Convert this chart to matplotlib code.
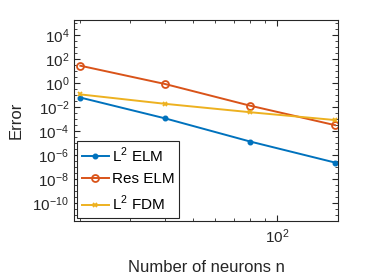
import matplotlib
matplotlib.use("Agg")
from matplotlib import pyplot as plt
from matplotlib.ticker import LogLocator, NullFormatter, FixedLocator

plt.rcParams['font.family'] = ['Liberation Sans', 'DejaVu Sans']
plt.rcParams['mathtext.fontset'] = 'custom'
plt.rcParams['mathtext.rm'] = 'Liberation Sans'

neurons = [20, 40, 80, 160]
l2_elm = [6e-2, 1.1e-3, 1.3e-5, 2.3e-7]
res_elm = [27, 0.8, 1.26e-2, 3e-4]
l2_fdm = [1.1e-1, 1.8e-2, 3.6e-3, 8e-4]
labels = [r'L$^2$ ELM', 'Res ELM', r'L$^2$ FDM']
colors = ['#0072BD', '#D95319', '#EDB120']
yticks = [1e4, 1e2, 1e0, 1e-2, 1e-4, 1e-6, 1e-8, 1e-10]

fig = plt.figure(figsize=(3.74, 2.8), dpi=100)
ax = fig.add_axes([0.198, 0.211, 0.706, 0.718])

ax.loglog(neurons, l2_elm, '-', color=colors[0], marker='o', markersize=3.3, lw=1.4, label=labels[0])
ax.loglog(neurons, res_elm, '-', color=colors[1], marker='o', markersize=5, mfc='none', mew=1.3, lw=1.4, label=labels[1])
ax.loglog(neurons, l2_fdm, '-', color=colors[2], marker='x', markersize=3.5, mew=1.3, lw=1.4, label=labels[2])

ax.set_xlim(19, 164)
ax.set_ylim(10**-11.5, 10**5.25)
ax.yaxis.set_major_locator(FixedLocator(yticks))
ax.yaxis.set_minor_locator(LogLocator(base=10, subs=(1.0, 3.0), numticks=40))
ax.yaxis.set_minor_formatter(NullFormatter())
ax.xaxis.set_major_locator(FixedLocator([100]))
ax.xaxis.set_minor_locator(LogLocator(base=10, subs=range(2, 10), numticks=20))
ax.xaxis.set_minor_formatter(NullFormatter())

ax.tick_params(which='both', direction='in', top=True, right=True, labelsize=11, colors='#262626')
ax.tick_params(which='major', length=4)
ax.tick_params(which='minor', length=2)
ax.tick_params(axis='x', pad=5)
for s in ax.spines.values():
    s.set_color('#262626')
    s.set_linewidth(0.8)

ax.set_ylabel('Error', fontsize=12, color='#262626', labelpad=6)
ax.set_xlabel('Number of neurons n', fontsize=12, color='#262626', labelpad=10)

leg = ax.legend(loc='lower left', fontsize=11, handlelength=1.8, handletextpad=0.2,
                borderpad=0.3, labelspacing=0.5, borderaxespad=0.2, fancybox=False,
                edgecolor='#262626', framealpha=1)
leg.get_frame().set_linewidth(0.8)

plt.savefig('out.png', dpi=100)
